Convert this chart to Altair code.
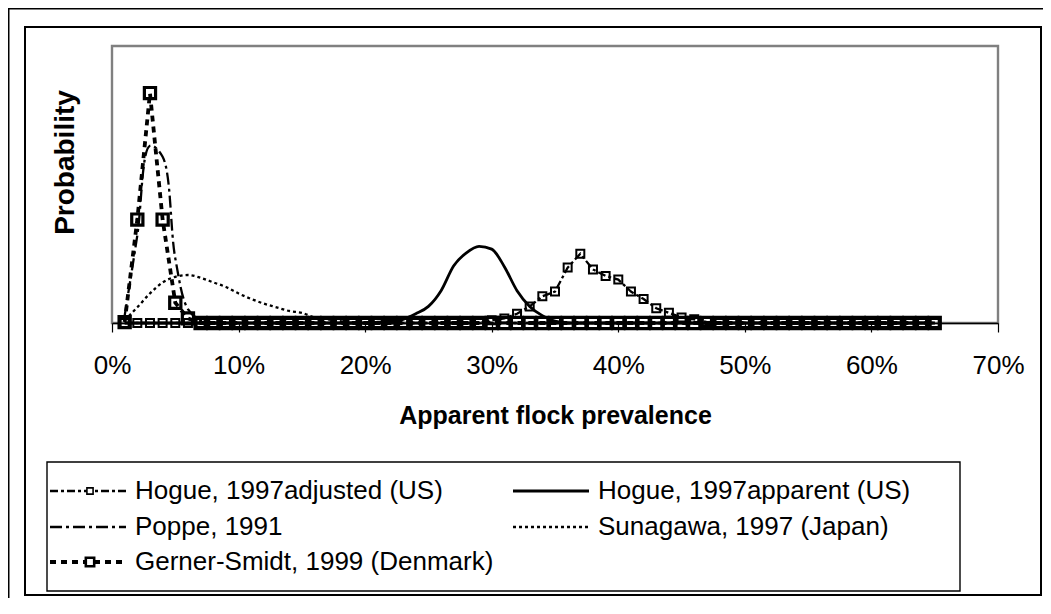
import altair as alt
import pandas as pd

# ---------------- data ----------------
prevalence = [round(i / 100, 2) for i in range(1, 66)]  # 1% .. 65%

series_names = [
    "Hogue, 1997adjusted (US)",
    "Hogue, 1997apparent (US)",
    "Poppe, 1991",
    "Sunagawa, 1997 (Japan)",
    "Gerner-Smidt, 1999 (Denmark)",
]

hogue_adjusted = [
    0, 0, 0, 0, 0, 0, 0, 0, 0, 0,
    0, 0, 0, 0, 0, 0, 0, 0, 0, 0,
    0, 0, 0, 0, 0, 0, 0, 0, 0, 0.003,
    0.005, 0.010, 0.018, 0.029, 0.034, 0.060, 0.075, 0.058, 0.051, 0.047,
    0.034, 0.026, 0.016, 0.011, 0.006, 0.004, 0.001, 0, 0, 0,
    0, 0, 0, 0, 0, 0, 0, 0, 0, 0,
    0, 0, 0, 0, 0,
]
hogue_apparent = [
    0, 0, 0, 0, 0, 0, 0, 0, 0, 0,
    0, 0, 0, 0, 0, 0, 0, 0, 0, 0,
    0.001, 0.002, 0.004, 0.010, 0.018, 0.035, 0.062, 0.076, 0.083, 0.080,
    0.061, 0.035, 0.018, 0.008, 0.002, 0, 0, 0, 0, 0,
    0, 0, 0, 0, 0, 0, 0, 0, 0, 0,
    0, 0, 0, 0, 0, 0, 0, 0, 0, 0,
    0, 0, 0, 0, 0,
]
poppe = [
    0.008, 0.095, 0.192, 0.180, 0.070, 0.015, 0.003, 0, 0, 0,
    0, 0, 0, 0, 0, 0, 0, 0, 0, 0,
    0, 0, 0, 0, 0, 0, 0, 0, 0, 0,
    0, 0, 0, 0, 0, 0, 0, 0, 0, 0,
    0, 0, 0, 0, 0, 0, 0, 0, 0, 0,
    0, 0, 0, 0, 0, 0, 0, 0, 0, 0,
    0, 0, 0, 0, 0,
]
sunagawa = [
    0.003, 0.017, 0.032, 0.044, 0.050, 0.052, 0.049, 0.044, 0.039, 0.032,
    0.026, 0.021, 0.017, 0.013, 0.011, 0.006, 0.004, 0.002, 0.001, 0,
    0, 0, 0, 0, 0, 0, 0, 0, 0, 0,
    0, 0, 0, 0, 0, 0, 0, 0, 0, 0,
    0, 0, 0, 0, 0, 0, 0, 0, 0, 0,
    0, 0, 0, 0, 0, 0, 0, 0, 0, 0,
    0, 0, 0, 0, 0,
]
gerner_smidt = [
    0.001, 0.112, 0.249, 0.112, 0.022, 0.005, 0, 0, 0, 0,
    0, 0, 0, 0, 0, 0, 0, 0, 0, 0,
    0, 0, 0, 0, 0, 0, 0, 0, 0, 0,
    0, 0, 0, 0, 0, 0, 0, 0, 0, 0,
    0, 0, 0, 0, 0, 0, 0, 0, 0, 0,
    0, 0, 0, 0, 0, 0, 0, 0, 0, 0,
    0, 0, 0, 0, 0,
]
series_values = [hogue_adjusted, hogue_apparent, poppe, sunagawa, gerner_smidt]

x_ticks = [0, 0.1, 0.2, 0.3, 0.4, 0.5, 0.6, 0.7]

# ---------------- styles ----------------
FONT = "Liberation Sans"
line_dash = [[8, 3, 3, 3], None, [12, 4, 3, 4], [3, 3], [6, 5]]
line_width = [2.3, 2.8, 2.3, 2.3, 3.8]
interp = ["linear", "monotone", "catmull-rom", "monotone", "linear"]
marker_size = [64, 0, 0, 0, 125]
marker_stroke = [2, 0, 0, 0, 3.2]
legend_marker_size = [38, 0, 0, 0, 70]
legend_cell = [(0, 0), (1, 0), (0, 1), (1, 1), (0, 2)]

# ---------------- layout (pixels inside the view) ----------------
W, H = 1016, 568
PX0, PX1 = 87, 973          # plot area left/right
PY0, PY1 = 296, 19          # plot area bottom/top
LEG_X = [25, 488]           # legend symbol start per column
LEG_Y = [464, 500, 535]     # legend row centres
SYM_LEN = 76

xscale = alt.Scale(domain=[0, 0.7], range=[PX0, PX1], nice=False, zero=False)
yscale = alt.Scale(domain=[0, 0.3], range=[PY0, PY1], nice=False, zero=False)

x_axis = alt.Axis(
    values=x_ticks, format=".0%", offset=-(H - PY0), grid=False,
    tickSize=9, tickColor="black", tickWidth=1.2, domainColor="black", domainWidth=1.4,
    labelFont=FONT, labelFontSize=26, labelColor="black", labelPadding=33,
    labelBaseline="middle", labelFlush=False,
    title="Apparent flock prevalence", titleFont=FONT, titleFontSize=25,
    titleFontWeight="bold", titleColor="black", titleY=92, titleBaseline="middle",
    zindex=1,
)
y_axis = alt.Axis(
    offset=-PX0, domain=False, ticks=False, labels=False, grid=False,
    title="Probability", titleFont=FONT, titleFontSize=28, titleFontWeight="bold",
    titleColor="black", titleX=-47, titleY=135, titleAngle=270,
    titleAlign="center", titleBaseline="middle",
)

layers = []

# plot-area frame (grey), carries the axes
frame_df = pd.DataFrame({"prevalence": [0.0], "prev_end": [0.7],
                         "probability": [0.0], "prob_end": [0.3]})
layers.append(
    alt.Chart(frame_df).mark_rect(fill=None, stroke="#808080", strokeWidth=2.4).encode(
        x=alt.X("prevalence:Q", scale=xscale, axis=x_axis),
        x2="prev_end:Q",
        y=alt.Y("probability:Q", scale=yscale, axis=y_axis),
        y2="prob_end:Q",
    )
)

for i, name in enumerate(series_names):
    df = pd.DataFrame({"prevalence": prevalence, "probability": series_values[i]})
    kw = dict(color="black", strokeWidth=line_width[i], interpolate=interp[i])
    if line_dash[i] is not None:
        kw["strokeDash"] = line_dash[i]
    layers.append(
        alt.Chart(df).mark_line(**kw).encode(
            x=alt.X("prevalence:Q", scale=xscale, axis=x_axis),
            y=alt.Y("probability:Q", scale=yscale, axis=y_axis),
        )
    )
    if marker_size[i] > 0:
        layers.append(
            alt.Chart(df).mark_point(
                shape="square", filled=False, stroke="black", opacity=1,
                strokeWidth=marker_stroke[i], size=marker_size[i],
            ).encode(
                x=alt.X("prevalence:Q", scale=xscale, axis=x_axis),
                y=alt.Y("probability:Q", scale=yscale, axis=y_axis),
            )
        )

# ---------------- legend ----------------
one = pd.DataFrame({"k": [0]})
layers.append(
    alt.Chart(one).mark_rect(fill="white", stroke="black", strokeWidth=1.4).encode(
        x=alt.value(22), x2=alt.value(935), y=alt.value(435), y2=alt.value(564)
    )
)
for i, name in enumerate(series_names):
    c, r = legend_cell[i]
    x0 = LEG_X[c]
    y0 = LEG_Y[r]
    kw = dict(color="black", strokeWidth=line_width[i])
    if line_dash[i] is not None:
        kw["strokeDash"] = line_dash[i]
    layers.append(
        alt.Chart(one).mark_rule(**kw).encode(
            x=alt.value(x0), x2=alt.value(x0 + SYM_LEN), y=alt.value(y0)
        )
    )
    if marker_size[i] > 0:
        layers.append(
            alt.Chart(one).mark_point(
                shape="square", filled=True, fill="white", stroke="black", opacity=1,
                strokeWidth=marker_stroke[i] * 0.8, size=legend_marker_size[i],
            ).encode(x=alt.value(x0 + SYM_LEN / 2 + 2), y=alt.value(y0))
        )
    lab = pd.DataFrame({"label": [name]})
    layers.append(
        alt.Chart(lab).mark_text(
            align="left", baseline="middle", font=FONT, fontSize=26, color="black"
        ).encode(x=alt.value(x0 + SYM_LEN + 9), y=alt.value(y0), text="label:N")
    )

# outer frame lines (partly visible in the picture)
layers.append(
    alt.Chart(one).mark_rule(color="black", strokeWidth=2).encode(
        x=alt.value(-16.5), y=alt.value(-19), y2=alt.value(H + 3)
    )
)
layers.append(
    alt.Chart(one).mark_rule(color="black", strokeWidth=2).encode(
        x=alt.value(-17), x2=alt.value(W + 2), y=alt.value(-18.5)
    )
)

chart = alt.layer(*layers).properties(
    width=W, height=H,
    autosize=alt.AutoSizeParams(type="none"),
    padding={"left": 17, "top": 19, "right": 2, "bottom": 3},
    background="white",
).configure_view(stroke="black", strokeWidth=2)

chart.save("out.html", embed_options={"renderer": "svg", "actions": False})
